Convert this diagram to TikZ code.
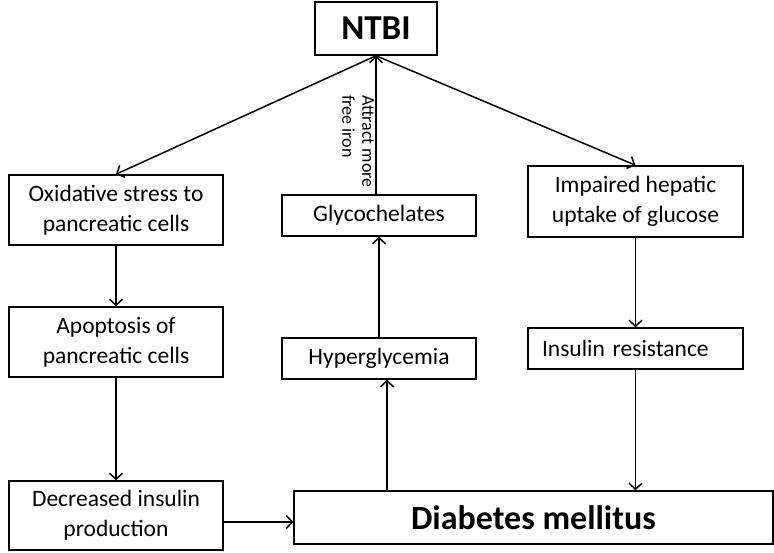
\documentclass[tikz,border=0pt]{standalone}
\usepackage{fontspec}
\setmainfont{Carlito}
\usetikzlibrary{arrows.meta}

\begin{document}
\begin{tikzpicture}[x=1pt,y=-1pt,
		box/.style={draw,line width=1.5pt,align=center,inner sep=0pt,font=\fontsize{23.5}{30}\selectfont},
		bigbox/.style={box,font=\bfseries\fontsize{34}{38}\selectfont},
		arr/.style={line width=1.5pt,-{Straight Barb[length=6pt,width=13pt,line width=1.5pt]}}]
		\useasboundingbox (0,0) rectangle (774,553);
		% top
		\node[bigbox,font=\bfseries\fontsize{35}{38}\selectfont,minimum width=122pt,minimum height=53pt] (ntbi) at (376,28.5) {NTBI};
		% left column
		\node[box,minimum width=214pt,minimum height=70pt] (oxid) at (116,210) {Oxidative stress to\\pancreatic cells};
		\node[box,minimum width=214pt,minimum height=70pt] (apop) at (116,342) {Apoptosis of\\pancreatic cells};
		\node[box,minimum width=214pt,minimum height=69pt] (decr) at (116,515.5) {Decreased insulin\\production};
		% middle column
		\node[box,minimum width=194pt,minimum height=41pt] (glyc) at (379,215.5) {Glycochelates};
		\node[box,minimum width=194pt,minimum height=41pt] (hyper) at (379,358.5) {Hyperglycemia};
		% right column
		\node[box,minimum width=215pt,minimum height=71pt] (impa) at (635.5,201.5) {Impaired hepatic\\uptake of glucose};
		\node[box,minimum width=215pt,minimum height=41pt,text width=187pt,align=left] (insr) at (635.5,348.5) {Insulin resistance};
		% bottom
		\node[bigbox,minimum width=479pt,minimum height=53pt] (diab) at (533.5,517.5) {Diabetes mellitus};

		\draw[arr] (ntbi.south) -- (oxid.north);
		\draw[arr] (ntbi.south) -- (impa.north);
		\draw[arr] (ntbi.south |- glyc.north) -- (ntbi.south);
		\node[rotate=-90,anchor=north west,inner sep=0pt,align=left,font=\fontsize{18}{20}\selectfont] (attr) at (374,95) {Attract more\\free iron};

		\draw[arr] (oxid) -- (apop);
		\draw[arr] (apop) -- (decr);
		\draw[arr] ([yshift=-6.5pt]decr.east) -- ([yshift=-6.5pt]decr.east -| diab.west);
		\draw[arr] ([xshift=8pt]hyper.south |- diab.north) -- ([xshift=8pt]hyper.south);
		\draw[arr] (hyper) -- (glyc);
		\draw[arr] (impa) -- (insr);
		\draw[arr] (insr.south) -- (insr.south |- diab.north);
	\end{tikzpicture}
\end{document}
